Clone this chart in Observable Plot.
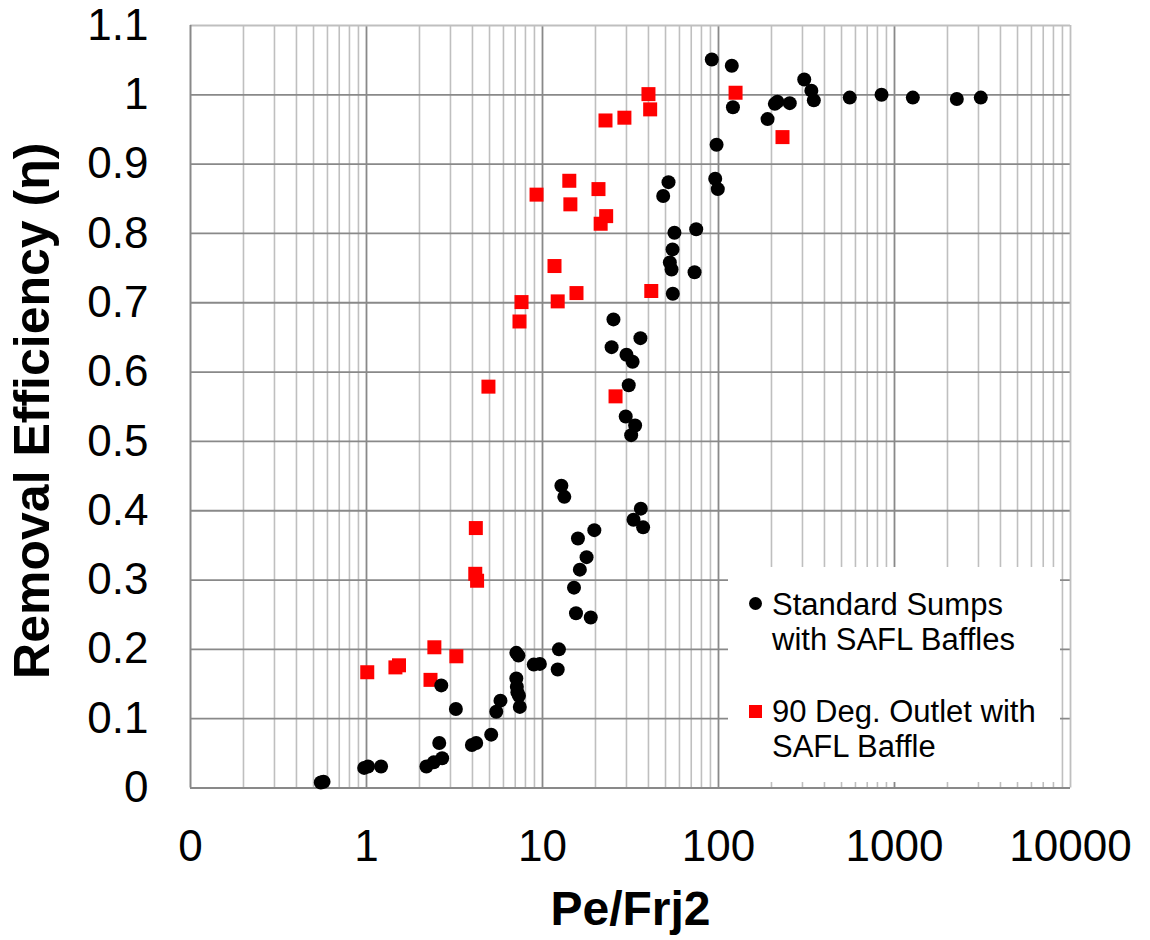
<!DOCTYPE html>
<html>
<head>
<meta charset="utf-8">
<script src="https://cdn.jsdelivr.net/npm/d3@7"></script>
<script src="https://cdn.jsdelivr.net/npm/@observablehq/plot@0.6"></script>
<style>
  html, body { margin: 0; padding: 0; background: #fff; }
  #wrap { position: relative; width: 1150px; height: 940px; font-family: "Liberation Sans", Arial, sans-serif; }
  #legend { position: absolute; left: 728px; top: 567px; width: 332px; height: 215px; background: #fff; }
  .lg-text { position: absolute; left: 772px; font-size: 31px; line-height: 35.5px; color: #000; white-space: nowrap; }
  .lg-dot { position: absolute; width: 13px; height: 13px; background: #000; border-radius: 50%; }
  .lg-sq { position: absolute; width: 13px; height: 13px; background: #ff0000; }
</style>
</head>
<body>
<div id="wrap"></div>
<script>
// Tick values
const xTicks = [0.1, 1, 10, 100, 1000, 10000];
const yTicks = [0, 0.1, 0.2, 0.3, 0.4, 0.5, 0.6, 0.7, 0.8, 0.9, 1.0, 1.1];
const minorMultipliers = [2, 3, 4, 5, 6, 7, 8, 9];

// Series 1: Standard Sumps with SAFL Baffles
const standardX = [0.55,0.57,0.97,1.02,1.21,2.19,2.41,2.69,2.59,2.66,3.22,3.97,4.2,5.11,5.46,5.77,7.1,7.3,7.1,7.15,7.2,7.35,7.43,8.92,9.66,12.4,12.2,15.5,18.8,15.1,16.3,17.8,15.9,19.7,12.8,13.3,36.2,32.9,37.3,31.9,33.6,29.7,30.9,32.5,30.0,24.7,36.0,25.3,55.0,73.1,54.1,52.9,54.8,56.2,74.7,48.5,52.0,99.1,95.8,97.5,120.8,91.6,119,190,209,216,254,307,337,348,557,844,1271,2260,3092];
const standardY = [0.008,0.009,0.029,0.031,0.031,0.031,0.037,0.043,0.065,0.148,0.114,0.062,0.065,0.077,0.110,0.126,0.195,0.191,0.158,0.146,0.138,0.133,0.117,0.178,0.179,0.2,0.171,0.252,0.246,0.289,0.315,0.333,0.360,0.372,0.436,0.420,0.403,0.387,0.376,0.509,0.523,0.536,0.581,0.615,0.625,0.636,0.649,0.676,0.713,0.744,0.748,0.758,0.777,0.801,0.806,0.854,0.874,0.864,0.879,0.928,0.982,1.051,1.042,0.965,0.987,0.990,0.988,1.022,1.006,0.992,0.996,1.0,0.996,0.994,0.996];

// Series 2: 90 Deg. Outlet with SAFL Baffle
const outletX = [1.01,1.46,1.53,2.31,2.43,3.24,4.15,4.25,4.18,4.93,7.4,7.6,9.25,11.7,12.2,14.2,14.4,15.6,20.8,21.4,23.0,22.8,29.2,40.0,40.9,41.5,26.0,125,231];
const outletY = [0.167,0.174,0.177,0.156,0.203,0.190,0.309,0.299,0.375,0.579,0.673,0.701,0.856,0.753,0.702,0.876,0.842,0.714,0.864,0.814,0.825,0.963,0.967,1.001,0.979,0.717,0.565,1.003,0.939];

const seriesNames = ["Standard Sumps\nwith SAFL Baffles", "90 Deg. Outlet with\nSAFL Baffle"];
const xTitle = "Pe/Frj2";
const yTitle = "Removal Efficiency (η)";

const standard = standardX.map((x, i) => ({x, y: standardY[i]}));
const outlet = outletX.map((x, i) => ({x, y: outletY[i]}));

const majorX = xTicks.slice(1, -1);
const minorX = xTicks.slice(0, -1).flatMap(d => minorMultipliers.map(m => d * m));
const innerY = yTicks.slice(1, -1);

const font = "Liberation Sans, Arial, sans-serif";
const darkGrid = "#898989";
const lightGrid = "#bfbfbf";

const chart = Plot.plot({
  width: 1150,
  height: 940,
  marginLeft: 190,
  marginRight: 80,
  marginTop: 25,
  marginBottom: 152.5,
  style: {fontFamily: font, background: "#fff", color: "#000"},
  x: {type: "log", domain: [0.1, 10000]},
  y: {domain: [0, 1.1]},
  marks: [
    Plot.ruleX(minorX, {stroke: lightGrid, strokeWidth: 1.6}),
    Plot.ruleX(majorX, {stroke: darkGrid, strokeWidth: 1.8}),
    Plot.ruleY(innerY, {stroke: darkGrid, strokeWidth: 1.8}),
    Plot.ruleY([yTicks[yTicks.length - 1]], {stroke: lightGrid, strokeWidth: 1.8}),
    Plot.ruleX([xTicks[xTicks.length - 1]], {stroke: lightGrid, strokeWidth: 1.8}),
    Plot.ruleX([xTicks[0]], {stroke: darkGrid, strokeWidth: 2}),
    Plot.ruleY([yTicks[0]], {stroke: darkGrid, strokeWidth: 2}),
    Plot.dot(outlet, {x: "x", y: "y", symbol: "square", fill: "#ff0000", stroke: "none", r: 7.9}),
    Plot.dot(standard, {x: "x", y: "y", fill: "#000", stroke: "none", r: 7}),
    Plot.axisX({ticks: xTicks, tickSize: 0, tickPadding: 42, fontSize: 44, label: null,
      tickFormat: d => d < 1 ? "0" : String(d)}),
    Plot.axisY({ticks: yTicks, tickSize: 0, tickPadding: 42, fontSize: 44, label: null,
      tickFormat: d => String(Math.round(d * 10) / 10)}),
    Plot.text([xTitle], {text: d => d, frameAnchor: "bottom", dy: 103, lineAnchor: "top",
      textAnchor: "middle", fontSize: 48, fontWeight: "bold", fill: "#000"}),
    Plot.text([yTitle], {text: d => d, frameAnchor: "left", dx: -177, dy: 4, rotate: -90,
      lineAnchor: "top", textAnchor: "middle", fontSize: 50, fontWeight: "bold", fill: "#000"})
  ]
});

const wrap = document.getElementById("wrap");
wrap.appendChild(chart);

// Legend overlay inside the plot area
const legend = document.createElement("div");
legend.id = "legend";
wrap.appendChild(legend);
const lg = [
  {cls: "lg-dot", mx: 748.5, my: 596.5, top: 586.7, label: seriesNames[0]},
  {cls: "lg-sq", mx: 748.5, my: 704.5, top: 693.7, label: seriesNames[1]}
];
lg.forEach(e => {
  const m = document.createElement("div");
  m.className = e.cls;
  m.style.left = e.mx + "px";
  m.style.top = e.my + "px";
  wrap.appendChild(m);
  e.label.split("\n").forEach((line, j) => {
    const t = document.createElement("div");
    t.className = "lg-text";
    t.style.top = (e.top + j * 35.5) + "px";
    t.textContent = line;
    wrap.appendChild(t);
  });
});
</script>
</body>
</html>
